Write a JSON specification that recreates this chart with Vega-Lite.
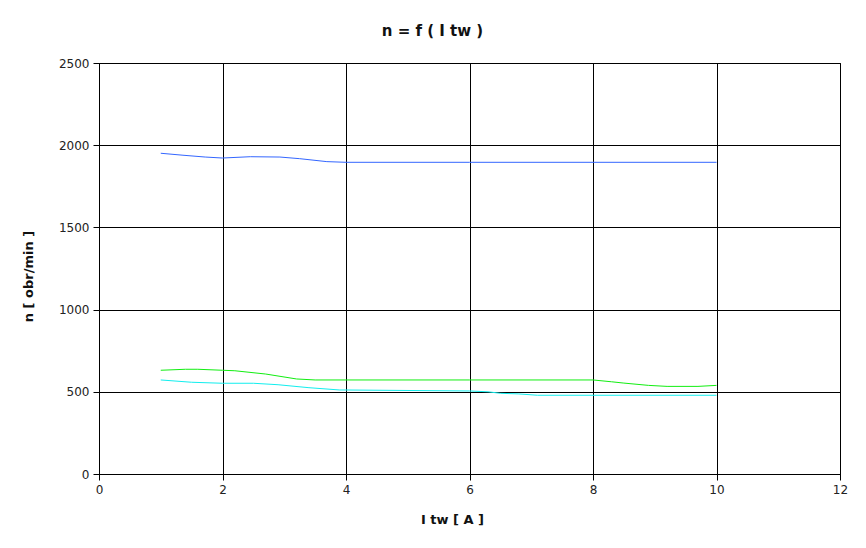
{
  "$schema": "https://vega.github.io/schema/vega-lite/v6.json",
  "autosize": "none",
  "padding": {"left": 99, "top": 63, "right": 26, "bottom": 74},
  "width": 741,
  "height": 411,
  "background": "white",
  "title": {"text": "n = f ( I tw )", "font": "DejaVu Sans", "fontSize": 15, "fontWeight": "bold", "color": "#111", "offset": 18, "dx": -37},
  "config": {
    "view": {"stroke": "black", "strokeWidth": 1},
    "axis": {
      "gridColor": "black", "gridOpacity": 1, "gridWidth": 1,
      "domainColor": "black", "tickColor": "black", "tickSize": 6,
      "labelFont": "DejaVu Sans", "labelFontSize": 12, "labelColor": "#222", "labelFlush": false, "format": "d",
      "titleFont": "DejaVu Sans", "titleFontSize": 13, "titleFontWeight": "bold", "titleColor": "#111"
    }
  },
  "data": {"values": [
    {"s": "a", "x": 1, "y": 1951}, {"s": "a", "x": 1.36, "y": 1939}, {"s": "a", "x": 1.72, "y": 1928},
    {"s": "a", "x": 2, "y": 1922}, {"s": "a", "x": 2.45, "y": 1930}, {"s": "a", "x": 2.93, "y": 1928},
    {"s": "a", "x": 3.25, "y": 1918}, {"s": "a", "x": 3.69, "y": 1900}, {"s": "a", "x": 4, "y": 1896},
    {"s": "a", "x": 6, "y": 1896}, {"s": "a", "x": 8, "y": 1896}, {"s": "a", "x": 10, "y": 1896},
    {"s": "b", "x": 1, "y": 631}, {"s": "b", "x": 1.4, "y": 637}, {"s": "b", "x": 1.6, "y": 637},
    {"s": "b", "x": 2, "y": 631}, {"s": "b", "x": 2.2, "y": 628}, {"s": "b", "x": 2.7, "y": 608},
    {"s": "b", "x": 3.2, "y": 578}, {"s": "b", "x": 3.5, "y": 572}, {"s": "b", "x": 6, "y": 572},
    {"s": "b", "x": 8, "y": 572}, {"s": "b", "x": 8.3, "y": 561}, {"s": "b", "x": 8.5, "y": 553},
    {"s": "b", "x": 8.9, "y": 539}, {"s": "b", "x": 9.2, "y": 533}, {"s": "b", "x": 9.7, "y": 533},
    {"s": "b", "x": 10, "y": 539},
    {"s": "c", "x": 1, "y": 572}, {"s": "c", "x": 1.5, "y": 558}, {"s": "c", "x": 2, "y": 552},
    {"s": "c", "x": 2.5, "y": 552}, {"s": "c", "x": 2.9, "y": 543}, {"s": "c", "x": 3.4, "y": 525},
    {"s": "c", "x": 3.9, "y": 511}, {"s": "c", "x": 4, "y": 511}, {"s": "c", "x": 6, "y": 505},
    {"s": "c", "x": 6.3, "y": 500}, {"s": "c", "x": 6.5, "y": 491}, {"s": "c", "x": 6.8, "y": 487},
    {"s": "c", "x": 7.1, "y": 479}, {"s": "c", "x": 10, "y": 479}
  ]},
  "mark": {"type": "line", "strokeWidth": 1, "interpolate": "linear"},
  "encoding": {
    "x": {"field": "x", "type": "quantitative", "scale": {"domain": [0, 12], "nice": false},
          "axis": {"values": [0, 2, 4, 6, 8, 10, 12], "title": "I tw [ A ]", "titlePadding": 18, "labelPadding": 4, "titleX": 353}},
    "y": {"field": "y", "type": "quantitative", "scale": {"domain": [0, 2500], "nice": false},
          "axis": {"values": [0, 500, 1000, 1500, 2000, 2500], "title": "n [ obr/min ]", "titlePadding": 23, "labelPadding": 4, "titleY": 213}},
    "color": {"field": "s", "type": "nominal", "legend": null,
              "scale": {"domain": ["a", "b", "c"], "range": ["#3366ff", "#11ee11", "#11eeee"]}}
  }
}
